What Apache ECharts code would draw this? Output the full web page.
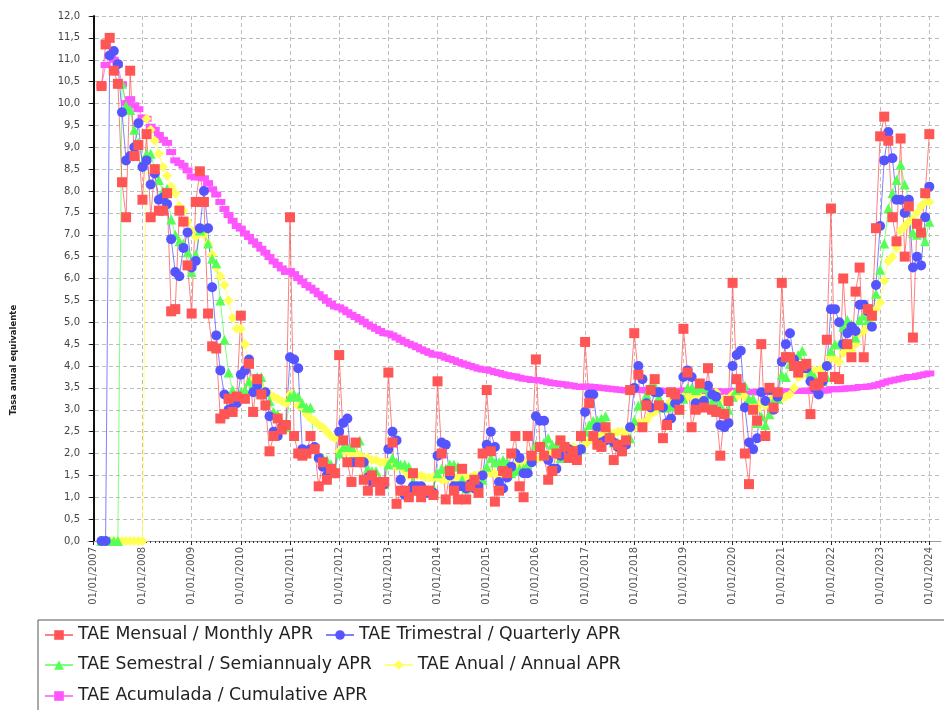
<!DOCTYPE html>
<html><head><meta charset="utf-8">
<script src="https://cdn.jsdelivr.net/npm/echarts@6/dist/echarts.min.js"></script>
<style>html,body{margin:0;padding:0;background:#fff}#c{width:944px;height:710px}</style>
</head><body><div id="c"></div>
<script>
// Monthly observations from March 2007 (month index 2, counted from Jan 2007) to January 2024
const firstMonthIndex = 2;
const xTickLabels = ['01/01/2007','01/01/2008','01/01/2009','01/01/2010','01/01/2011','01/01/2012',
  '01/01/2013','01/01/2014','01/01/2015','01/01/2016','01/01/2017','01/01/2018','01/01/2019',
  '01/01/2020','01/01/2021','01/01/2022','01/01/2023','01/01/2024'];
const seriesNames = ['TAE Mensual / Monthly APR','TAE Trimestral / Quarterly APR',
  'TAE Semestral / Semiannualy APR','TAE Anual / Annual APR','TAE Acumulada / Cumulative APR'];

const monthly = [
  10.4,11.35,11.5,10.75,10.45,8.2,7.4,10.75,8.8,9.05,
  7.8,9.3,7.4,8.5,7.55,7.55,7.95,5.25,5.3,7.55,7.3,6.3,
  5.2,7.75,8.45,7.75,5.2,4.45,4.4,2.8,2.9,3.25,2.95,3.3,
  5.15,3.25,4.05,2.95,3.7,3.35,3.1,2.05,2.4,2.8,2.55,2.65,
  7.4,2.4,2.0,1.95,2.0,2.4,2.1,1.25,1.8,1.4,1.65,1.55,
  4.25,2.3,1.8,1.35,2.25,1.8,1.4,1.15,1.5,1.35,1.15,1.35,
  3.85,2.25,0.85,1.15,1.15,1.0,1.55,1.15,1.0,1.15,1.15,1.05,
  3.65,2.0,0.95,1.6,1.15,0.95,1.65,0.95,1.25,1.4,1.1,2.0,
  3.45,2.05,0.9,1.15,1.6,1.55,2.0,2.4,1.25,1.0,2.4,1.95,
  4.15,2.15,1.95,1.4,1.6,2.0,2.3,2.15,1.9,2.05,1.85,2.4,
  4.55,3.15,2.4,2.2,2.15,2.6,2.35,1.85,2.2,2.05,2.3,3.45,
  4.75,3.8,2.6,3.1,3.45,3.7,3.1,2.35,2.65,3.4,3.35,3.0,
  4.85,3.85,2.6,3.0,3.6,3.05,3.95,3.0,2.95,1.95,2.9,3.2,
  5.9,3.7,3.5,2.0,1.3,3.0,2.75,4.5,2.4,3.5,3.05,3.4,
  5.9,4.2,4.2,4.0,3.85,4.0,4.05,2.9,3.55,3.6,3.75,4.6,
  7.6,3.75,3.7,6.0,4.5,4.2,5.7,6.25,4.2,5.3,5.15,7.15,
  9.25,9.7,9.15,7.4,6.85,9.2,6.5,7.65,4.65,7.25,7.05,7.95,
  9.3];

const quarterly = [
  0,0,11.1,11.2,10.9,9.8,8.7,8.8,9.0,9.55,
  8.55,8.7,8.15,8.4,7.8,7.85,7.7,6.9,6.15,6.05,6.7,7.05,
  6.25,6.4,7.15,8.0,7.15,5.8,4.7,3.9,3.35,3.0,3.05,3.15,
  3.8,3.9,4.15,3.4,3.55,3.35,3.4,2.85,2.5,2.4,2.6,2.65,
  4.2,4.15,3.95,2.1,2.0,2.1,2.15,1.9,1.7,1.5,1.6,1.55,
  2.5,2.7,2.8,1.8,1.8,1.8,1.8,1.45,1.35,1.35,1.35,1.3,
  2.1,2.5,2.3,1.4,1.05,1.1,1.25,1.25,1.25,1.1,1.1,1.1,
  1.95,2.25,2.2,1.5,1.25,1.25,1.25,1.2,1.3,1.2,1.25,1.5,
  2.2,2.5,2.15,1.35,1.2,1.45,1.7,2.0,1.9,1.55,1.55,1.8,
  2.85,2.75,2.75,1.85,1.65,1.65,1.95,2.15,2.1,2.05,1.95,2.1,
  2.95,3.35,3.35,2.6,2.25,2.3,2.35,2.25,2.15,2.05,2.2,2.6,
  3.5,4.0,3.7,3.15,3.05,3.4,3.4,3.05,2.7,2.8,3.15,3.25,
  3.75,3.9,3.75,3.15,3.05,3.2,3.55,3.35,3.3,2.65,2.6,2.7,
  4.0,4.25,4.35,3.05,2.25,2.1,2.35,3.4,3.2,3.45,3.0,3.3,
  4.1,4.5,4.75,4.15,4.0,3.95,3.95,3.65,3.5,3.35,3.65,4.0,
  5.3,5.3,5.0,4.5,4.75,4.9,4.8,5.4,5.4,5.25,4.9,5.85,
  7.2,8.7,9.35,8.75,7.8,7.8,7.5,7.8,6.25,6.5,6.3,7.4,
  8.1];

const semiannual = [
  0,0,0,0,0,10.45,9.95,9.85,9.4,9.1,
  8.65,8.85,8.85,8.5,8.25,8.0,8.05,7.35,7.0,6.85,6.8,6.6,
  6.15,6.55,7.1,7.15,6.8,6.45,6.35,5.5,4.6,3.85,3.45,3.25,
  3.4,3.45,3.65,3.6,3.75,3.75,3.4,3.2,2.95,2.9,2.7,2.6,
  3.3,3.35,3.3,3.15,3.05,3.05,2.15,1.95,1.9,1.85,1.75,1.65,
  2.0,2.15,2.15,2.15,2.25,2.3,1.8,1.65,1.6,1.6,1.4,1.3,
  1.75,1.9,1.8,1.75,1.75,1.7,1.35,1.15,1.15,1.15,1.15,1.2,
  1.55,1.65,1.65,1.75,1.75,1.7,1.4,1.2,1.25,1.25,1.2,1.4,
  1.7,1.9,1.8,1.8,1.85,1.8,1.55,1.6,1.65,1.65,1.75,1.85,
  2.2,2.15,2.25,2.35,2.2,2.2,1.9,1.9,1.9,2.0,2.05,2.1,
  2.5,2.65,2.75,2.75,2.8,2.85,2.45,2.25,2.25,2.2,2.25,2.35,
  2.75,3.1,3.15,3.35,3.55,3.55,3.3,3.05,3.05,3.1,3.1,3.0,
  3.25,3.5,3.5,3.45,3.5,3.5,3.35,3.2,3.25,3.1,2.95,3.0,
  3.3,3.45,3.55,3.55,3.25,3.25,2.7,2.85,2.65,2.9,3.2,3.25,
  3.8,3.75,4.05,4.15,4.25,4.35,4.05,3.85,3.75,3.65,3.65,3.75,
  4.35,4.5,4.5,4.9,5.05,4.95,4.65,5.05,5.15,5.05,5.15,5.65,
  6.2,6.8,7.6,7.95,8.25,8.6,8.15,7.8,7.05,7.0,7.05,6.85,
  7.3];

const annual = [
  0,0,0,0,0,0,0,0,0,0,
  0,9.65,9.4,9.15,8.85,8.55,8.35,8.1,7.95,7.65,7.55,7.3,
  7.1,6.95,7.05,7.0,6.8,6.55,6.25,6.05,5.85,5.5,5.1,4.85,
  4.85,4.5,4.1,3.7,3.6,3.5,3.4,3.35,3.3,3.25,3.2,3.15,
  3.35,3.3,3.1,3.05,2.9,2.8,2.75,2.65,2.6,2.5,2.4,2.35,
  2.05,2.05,2.05,2.0,2.0,1.95,1.9,1.9,1.85,1.85,1.8,1.8,
  1.8,1.75,1.7,1.7,1.6,1.5,1.55,1.5,1.5,1.45,1.45,1.45,
  1.45,1.4,1.4,1.45,1.45,1.45,1.45,1.45,1.45,1.5,1.5,1.55,
  1.55,1.55,1.55,1.5,1.55,1.6,1.6,1.75,1.75,1.7,1.8,1.8,
  1.85,1.9,1.95,2.0,2.0,2.0,2.05,2.05,2.1,2.15,2.1,2.15,
  2.2,2.3,2.3,2.4,2.45,2.5,2.5,2.45,2.5,2.5,2.5,2.6,
  2.6,2.7,2.7,2.75,2.9,2.95,3.05,3.05,3.1,3.2,3.3,3.3,
  3.3,3.3,3.3,3.3,3.3,3.25,3.3,3.35,3.4,3.25,3.25,3.25,
  3.35,3.3,3.4,3.3,3.1,3.1,3.0,3.15,3.1,3.25,3.25,3.25,
  3.25,3.3,3.35,3.5,3.75,3.8,3.95,3.8,3.9,3.9,3.95,4.05,
  4.2,4.15,4.1,4.3,4.35,4.35,4.5,4.75,4.8,4.95,5.1,5.3,
  5.45,5.95,6.4,6.5,6.7,7.1,7.2,7.3,7.35,7.5,7.65,7.75,
  7.75];

const cumulative = [
  10.4,10.88,11.08,11.0,10.89,10.44,10.01,10.1,9.96,9.87,
  9.68,9.65,9.47,9.4,9.28,9.17,9.1,8.89,8.7,8.64,8.58,8.47,
  8.33,8.31,8.31,8.29,8.18,8.04,7.92,7.75,7.59,7.45,7.32,7.2,
  7.14,7.03,6.95,6.85,6.77,6.68,6.59,6.49,6.39,6.31,6.23,6.15,
  6.17,6.1,6.01,5.93,5.85,5.79,5.72,5.64,5.57,5.49,5.42,5.36,
  5.34,5.29,5.23,5.17,5.12,5.07,5.01,4.95,4.9,4.85,4.8,4.75,
  4.74,4.7,4.65,4.6,4.55,4.51,4.47,4.43,4.38,4.34,4.3,4.26,
  4.26,4.23,4.19,4.16,4.13,4.09,4.06,4.03,4.0,3.97,3.94,3.92,
  3.91,3.89,3.86,3.84,3.81,3.79,3.77,3.76,3.73,3.71,3.7,3.68,
  3.68,3.67,3.65,3.63,3.61,3.6,3.59,3.58,3.56,3.55,3.53,3.52,
  3.53,3.53,3.52,3.51,3.5,3.49,3.48,3.47,3.46,3.45,3.44,3.44,
  3.45,3.45,3.45,3.44,3.44,3.45,3.44,3.43,3.43,3.43,3.43,3.43,
  3.44,3.44,3.43,3.43,3.43,3.43,3.43,3.43,3.43,3.42,3.41,3.41,
  3.43,3.43,3.43,3.42,3.41,3.4,3.4,3.41,3.4,3.4,3.4,3.4,
  3.41,3.42,3.42,3.43,3.43,3.43,3.44,3.43,3.43,3.43,3.44,3.44,
  3.47,3.47,3.47,3.48,3.49,3.49,3.5,3.52,3.52,3.53,3.54,3.56,
  3.59,3.62,3.65,3.67,3.69,3.71,3.73,3.75,3.75,3.77,3.79,3.81,
  3.83];

function toPairs(arr){ return arr.map((v,i)=>[firstMonthIndex+i, v]); }

const FONT = 'DejaVu Sans';
const chart = echarts.init(document.getElementById('c'), null, {renderer:'canvas'});

const gridTop = 16, gridBottom = 169;
const gridDash = {color:'#bdbdbd', width:1, type:[4,3]};

function mk(name, arr, color, symbol, size){
  return {
    type:'line', name, data: toPairs(arr), xAxisIndex:1, yAxisIndex:1,
    symbol, symbolSize:size, showSymbol:true, showAllSymbol:true,
    itemStyle:{color, borderWidth:0}, lineStyle:{color, width:1, opacity:0.75},
    emphasis:{disabled:true}, animation:false, clip:false
  };
}

chart.setOption({
  animation:false,
  backgroundColor:'#ffffff',
  grid:[
    {left:88, right:3, top:gridTop, bottom:gridBottom},
    {left:93.3, right:14.7, top:gridTop, bottom:gridBottom}
  ],
  xAxis:[
    {type:'value', gridIndex:0, min:-1.3, max:206.7,
     axisLine:{show:true, lineStyle:{color:'#9a9a9a', width:1}},
     axisTick:{show:false}, axisLabel:{show:false}, splitLine:{show:false}},
    {type:'value', gridIndex:1, min:0, max:204, interval:12,
     axisLine:{show:false},
     axisTick:{show:true, length:4, lineStyle:{color:'#222', width:1}},
     minorTick:{show:true, splitNumber:12, length:2, lineStyle:{color:'#333', width:1}},
     axisLabel:{rotate:90, margin:6, fontFamily:FONT, fontSize:10, color:'#555',
       formatter:(v)=>xTickLabels[Math.round(v/12)]},
     splitLine:{show:true, lineStyle:gridDash}}
  ],
  yAxis:[
    {type:'value', gridIndex:0, min:0, max:12, interval:0.5,
     axisLine:{show:true, lineStyle:{color:'#111', width:2}},
     axisTick:{show:true, length:4, lineStyle:{color:'#111', width:1}},
     axisLabel:{margin:8, fontFamily:FONT, fontSize:10, color:'#444',
       formatter:(v)=>v.toFixed(1).replace('.', ',')},
     splitLine:{show:true, lineStyle:gridDash}},
    {type:'value', gridIndex:1, min:0, max:12, interval:0.5, show:false}
  ],
  legend:[0,1,2].map(r=>({
    data: [[seriesNames[0],seriesNames[1]],[seriesNames[2],seriesNames[3]],[seriesNames[4]]][r],
    left:44, top:[625,655,686][r], orient:'horizontal', padding:0,
    itemWidth:28, itemHeight:12, itemGap:12, selectedMode:false,
    textStyle:{fontFamily:FONT, fontSize:17.3, color:'#222', lineHeight:20}
  })),
  graphic:[
    {type:'rect', shape:{x:38, y:620, width:1000, height:200}, style:{fill:'none', stroke:'#555', lineWidth:1}, silent:true, z:-1},
    {type:'text', x:14, y:360, rotation:Math.PI/2,
     style:{text:'Tasa anual equivalente', fontFamily:FONT, fontSize:8.5, fontWeight:'bold', fill:'#222', align:'center', verticalAlign:'middle'}}
  ],
  series:[
    mk(seriesNames[4], cumulative, '#FF55FF', 'rect', [10,6]),
    mk(seriesNames[3], annual, '#FFFF55', 'diamond', 10),
    mk(seriesNames[2], semiannual, '#55FF55', 'triangle', 10),
    mk(seriesNames[1], quarterly, '#5555FF', 'circle', 10),
    mk(seriesNames[0], monthly, '#FF5555', 'rect', 10)
  ]
});
</script></body></html>
